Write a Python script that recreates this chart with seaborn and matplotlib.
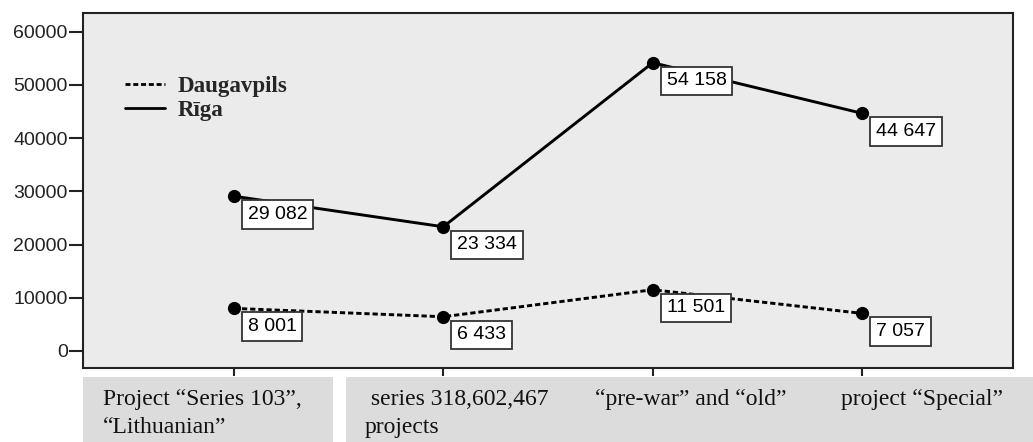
import matplotlib
matplotlib.use("Agg")
import matplotlib.pyplot as plt
from matplotlib.lines import Line2D
from matplotlib.patches import Rectangle
import pandas as pd
import seaborn as sns

# Housing stock by building type (m²)
categories = [
    "Project \u201cSeries 103\u201d,\n\u201cLithuanian\u201d",
    " series 318,602,467\nprojects",
    "\u201cpre-war\u201d and \u201cold\u201d",
    "project \u201cSpecial\u201d",
]
daugavpils = [8001, 6433, 11501, 7057]
riga = [29082, 23334, 54158, 44647]
cities = ["Daugavpils", "R\u012bga"]
yticks = [0, 10000, 20000, 30000, 40000, 50000, 60000]

df = pd.DataFrame({
    "category": categories * 2,
    "value": daugavpils + riga,
    "city": [cities[0]] * 4 + [cities[1]] * 4,
})

sns.set_theme(style="white")
plt.rcParams["font.family"] = ["Liberation Sans", "DejaVu Sans"]

fig = plt.figure(figsize=(10.33, 4.42), dpi=100)
W, H = 1033, 442
ax = fig.add_axes([83 / W, 1 - 368 / H, (1013 - 83) / W, (368 - 13) / H])
ax.set_facecolor("#ebebeb")

sns.lineplot(
    data=df, x="category", y="value", hue="city", style="city",
    palette={cities[0]: "black", cities[1]: "black"},
    dashes={cities[0]: (1.8, 1.0), cities[1]: ""},
    markers={cities[0]: "o", cities[1]: "o"},
    markersize=9.5, markeredgewidth=0, linewidth=2.1,
    sort=False, legend=False, ax=ax,
)

# value labels in boxes, down-right of each point
for _, row in df.iterrows():
    ax.annotate(
        f"{row['value']:,}".replace(",", " "),
        xy=(row["category"], row["value"]),
        xytext=(10, -7), textcoords="offset points",
        ha="left", va="top", fontsize=14, color="black",
        bbox=dict(boxstyle="square,pad=0.3", fc="white", ec="#333333", lw=1.3),
        zorder=5,
    )

ax.set_xlim(-0.72, 3.72)
ax.set_ylim(-3200, 63500)
ax.set_yticks(yticks)
ax.set_yticklabels([str(v) for v in yticks])
ax.set_xticks(range(len(categories)))
ax.set_xticklabels([""] * len(categories))
ax.set_xlabel("")
ax.set_ylabel("")
ax.tick_params(axis="y", length=10, width=1.5, pad=1, labelsize=14,
               colors="#222222", left=True)
ax.tick_params(axis="x", length=6, width=1.5, bottom=True, colors="#222222")
for s in ax.spines.values():
    s.set_visible(True)
    s.set_color("#222222")
    s.set_linewidth(1.5)

# legend
handles = [
    Line2D([], [], color="black", lw=2.0, linestyle=(0, (1.8, 1.0))),
    Line2D([], [], color="black", lw=2.0, linestyle="-"),
]
ax.legend(handles, cities, loc="upper left", bbox_to_anchor=(0.045, 0.823),
          frameon=False, borderpad=0, borderaxespad=0, handlelength=1.75,
          handletextpad=0.55, labelspacing=0.15,
          prop={"family": "Liberation Serif", "weight": "bold", "size": 16.5})

# category label panels under the axis
fig.patches.append(Rectangle((83 / W, 0), (333 - 83) / W, 1 - 377 / H,
                             transform=fig.transFigure, fc="#dcdcdc", ec="none"))
fig.patches.append(Rectangle((346 / W, 0), (W - 346) / W, 1 - 377 / H,
                             transform=fig.transFigure, fc="#dcdcdc", ec="none"))
label_x = [103, 365, 595, 841]
for lab, xp in zip(categories, label_x):
    fig.text(xp / W, 1 - 389 / H, lab, ha="left", va="top",
             fontsize=17, family="Liberation Serif", color="#111111",
             linespacing=1.45)

fig.savefig("out.png", dpi=100)
